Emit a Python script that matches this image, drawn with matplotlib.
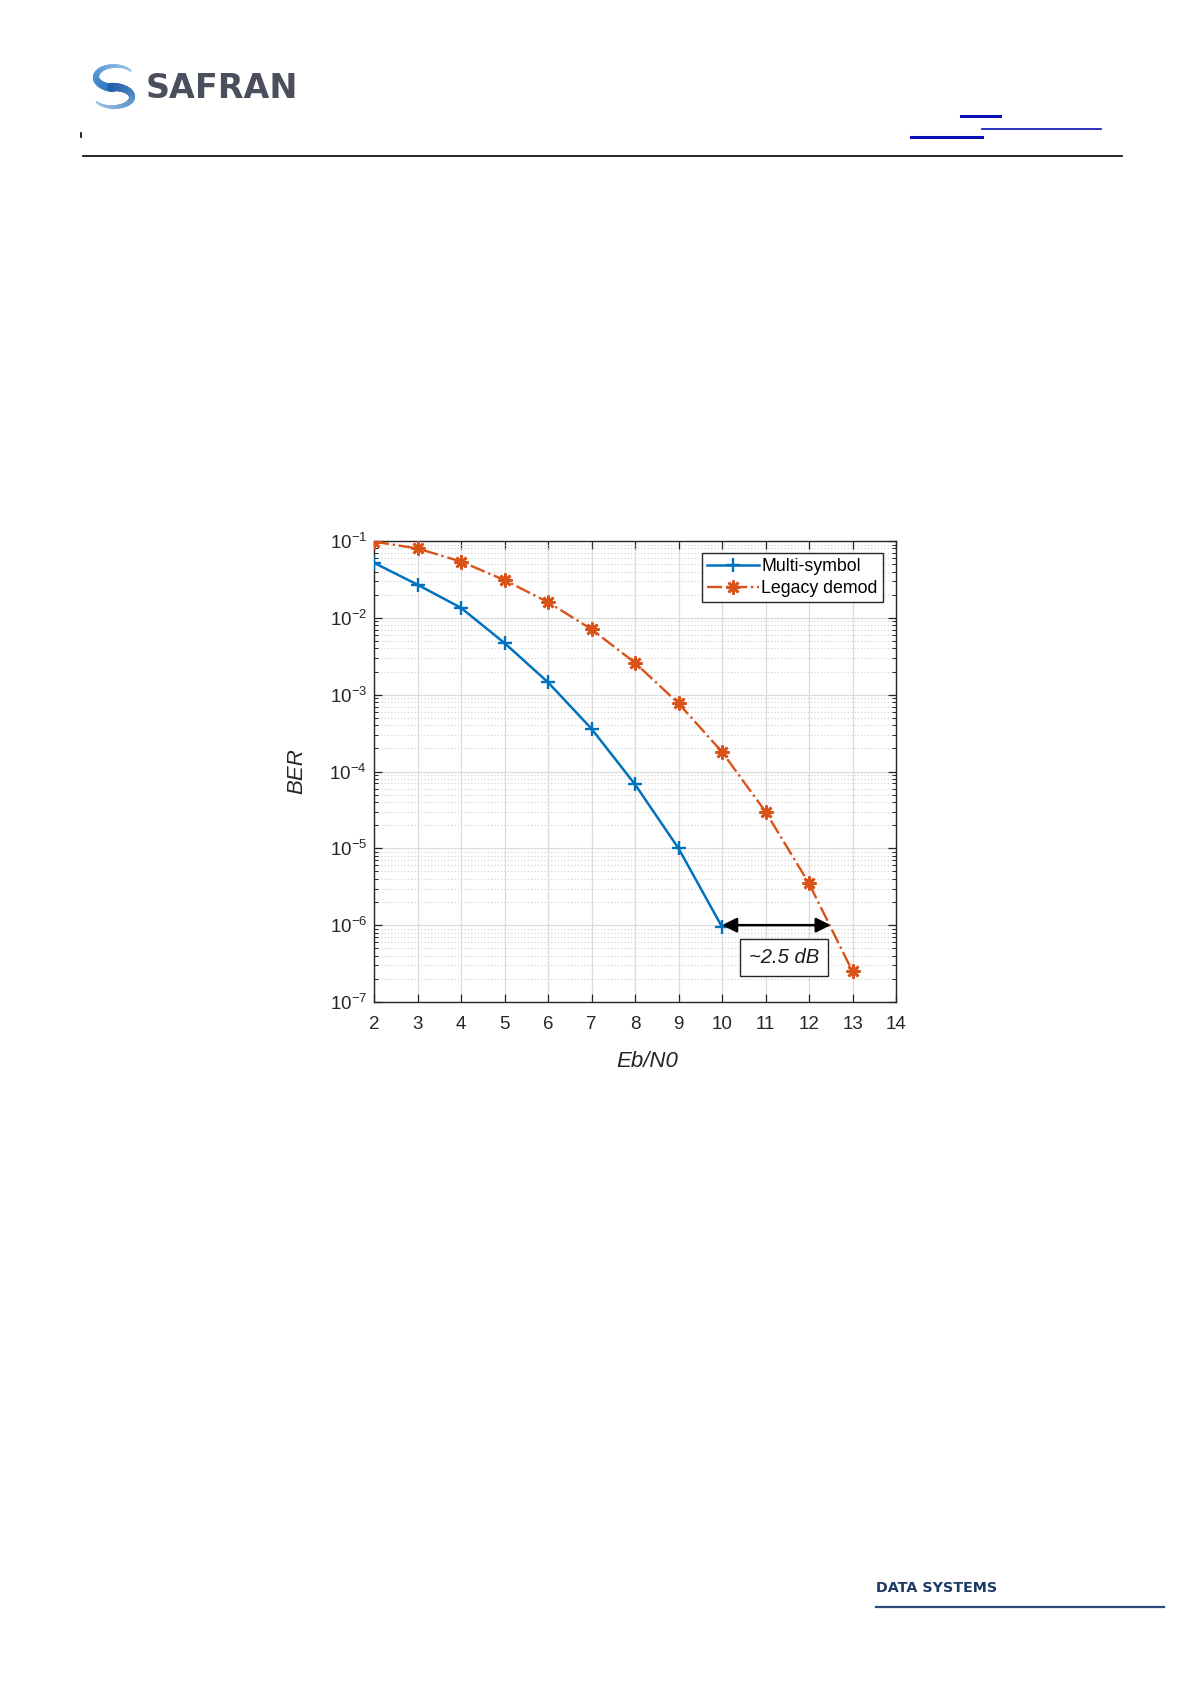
import numpy as np
import matplotlib
matplotlib.use("Agg")
import matplotlib.pyplot as plt
from matplotlib.ticker import LogLocator, NullLocator, FixedLocator, FuncFormatter
from matplotlib.collections import LineCollection

# ---------------- data ----------------
ebn0_multi = [2, 3, 4, 5, 6, 7, 8, 9, 10]
ber_multi = [5.2e-2, 2.7e-2, 1.35e-2, 4.7e-3, 1.45e-3, 3.6e-4, 6.8e-5, 1.0e-5, 9.5e-7]
ebn0_legacy = [2, 3, 4, 5, 6, 7, 8, 9, 10, 11, 12, 13]
ber_legacy = [9.8e-2, 8.0e-2, 5.4e-2, 3.1e-2, 1.6e-2, 7.1e-3, 2.6e-3, 7.7e-4,
              1.8e-4, 3.0e-5, 3.5e-6, 2.5e-7]
x_ticks = [2, 3, 4, 5, 6, 7, 8, 9, 10, 11, 12, 13, 14]
y_decades = [-7, -6, -5, -4, -3, -2, -1]
series_labels = ["Multi-symbol", "Legacy demod"]
gap_start, gap_end, gap_level = 10.0, 12.5, 1e-6
gap_text = "~2.5 dB"
gap_text_pos = (11.42, 10 ** -6.42)

plt.rcParams['font.family'] = ['Liberation Sans', 'DejaVu Sans']
plt.rcParams['mathtext.fontset'] = 'custom'
plt.rcParams['mathtext.rm'] = 'Liberation Sans'
plt.rcParams['mathtext.it'] = 'Liberation Sans:italic'

W, H = 1191, 1684
fig = plt.figure(figsize=(W / 100, H / 100), dpi=100)

# ---------------- page decorations (pixel coords overlay) ----------------
deco = fig.add_axes([0, 0, 1, 1])
deco.set_xlim(0, W)
deco.set_ylim(H, 0)
deco.axis('off')

def swoosh(cx, cy, rx, ry, t0, t1, w0, w1, c0, c1):
    t = np.radians(np.linspace(t0, t1, 60))
    xs = cx + rx * np.cos(t)
    ys = cy - ry * np.sin(t)
    pts = np.column_stack([xs, ys])
    segs = np.stack([pts[:-1], pts[1:]], axis=1)
    n = len(segs)
    widths = np.linspace(w0, w1, n)
    ca = np.array(matplotlib.colors.to_rgb(c0))
    cb = np.array(matplotlib.colors.to_rgb(c1))
    cols = [tuple(ca + (cb - ca) * k / (n - 1)) for k in range(n)]
    lc = LineCollection(segs, linewidths=widths, colors=cols, capstyle='round')
    deco.add_collection(lc)

swoosh(115, 77, 19, 11, 35, 265, 1.5, 6.0, '#9cc6ea', '#2f78c2')
swoosh(113, 97, 19, 10, 95, -150, 6.0, 1.5, '#1f5fa8', '#9cc6ea')
deco.text(146, 89, "SAFRAN", fontsize=24, fontweight='bold', color='#4b4e5c',
          family='DejaVu Sans', ha='left', va='center')

deco.plot([961, 1000], [115.5, 115.5], color='#0a10b8', lw=2.2)
deco.plot([982, 1101], [129, 129], color='#0a10b8', lw=1.2)
deco.plot([911, 982], [137, 137], color='#0a10b8', lw=2.2)
deco.plot([81, 81], [133, 137], color='black', lw=1.2)
deco.plot([83, 1122], [156, 156], color='black', lw=1.2)

deco.text(876, 1588, "DATA SYSTEMS", fontsize=10.3, fontweight='bold', color='#1d3966',
          family='DejaVu Sans', ha='left', va='center')
deco.plot([876, 1164], [1607, 1607], color='#2b4a7a', lw=1.6)

# ---------------- chart ----------------
ax = fig.add_axes([374 / W, 1 - 1002 / H, 522 / W, 461 / H])
ax.set_yscale('log')
ax.set_xlim(2, 14)
ax.set_ylim(1e-7, 1e-1)

blue = '#0072BD'
orange = '#D95319'
ax.plot(ebn0_multi, ber_multi, color=blue, lw=1.8, marker='+', ms=10, mew=1.7,
        label=series_labels[0], zorder=3)
ax.plot(ebn0_legacy, ber_legacy, color=orange, lw=1.7, ls='-.', marker=(8, 2, 0), ms=10,
        mew=1.9, label=series_labels[1], zorder=3)

ax.xaxis.set_major_locator(FixedLocator(x_ticks))
ax.xaxis.set_minor_locator(NullLocator())
ax.yaxis.set_major_locator(FixedLocator([10.0 ** d for d in y_decades]))
ax.yaxis.set_minor_locator(LogLocator(base=10, subs=np.arange(2, 10), numticks=50))
ax.yaxis.set_major_formatter(FuncFormatter(lambda v, p: r'$10^{%d}$' % int(round(np.log10(v)))))
ax.yaxis.set_minor_formatter(FuncFormatter(lambda v, p: ''))

ax.grid(True, which='major', color='#dcdcdc', lw=0.9, ls='-')
ax.grid(True, which='minor', axis='y', color='#cfcfcf', lw=0.8, ls=(0, (1, 2)))
ax.set_axisbelow(True)

ax.tick_params(which='both', direction='in', top=True, right=True, colors='#262626')
ax.tick_params(axis='x', labelsize=13.5, pad=10)
ax.tick_params(axis='y', labelsize=13.5, pad=5)
ax.tick_params(which='major', length=6, width=0.9)
ax.tick_params(which='minor', length=3, width=0.7)
for s in ax.spines.values():
    s.set_color('#262626')
    s.set_linewidth(1.0)

ax.set_xlabel("Eb/N0", fontsize=16, style='italic', color='#262626', labelpad=13)
ax.xaxis.set_label_coords(0.523, -0.107)
ax.set_ylabel("BER", fontsize=16, style='italic', color='#262626', labelpad=16)

leg = ax.legend(loc='upper right', bbox_to_anchor=(0.975, 0.974), borderaxespad=0,
                fontsize=12.8, fancybox=False, framealpha=1, edgecolor='#262626',
                handlelength=2.9, handletextpad=0.15, borderpad=0.3, labelspacing=0.25)
leg.get_frame().set_linewidth(1.0)

ax.annotate('', xy=(gap_end, gap_level), xytext=(gap_start, gap_level),
            arrowprops=dict(arrowstyle='<|-|>', color='black', lw=1.8,
                            mutation_scale=22, shrinkA=0, shrinkB=0), zorder=4)
ax.text(gap_text_pos[0], gap_text_pos[1], gap_text, fontsize=14.5, style='italic',
        ha='center', va='center', color='#1a1a1a', zorder=5,
        bbox=dict(boxstyle='square,pad=0.45', fc='white', ec='#262626', lw=1.0))

fig.savefig("out.png", dpi=100)
